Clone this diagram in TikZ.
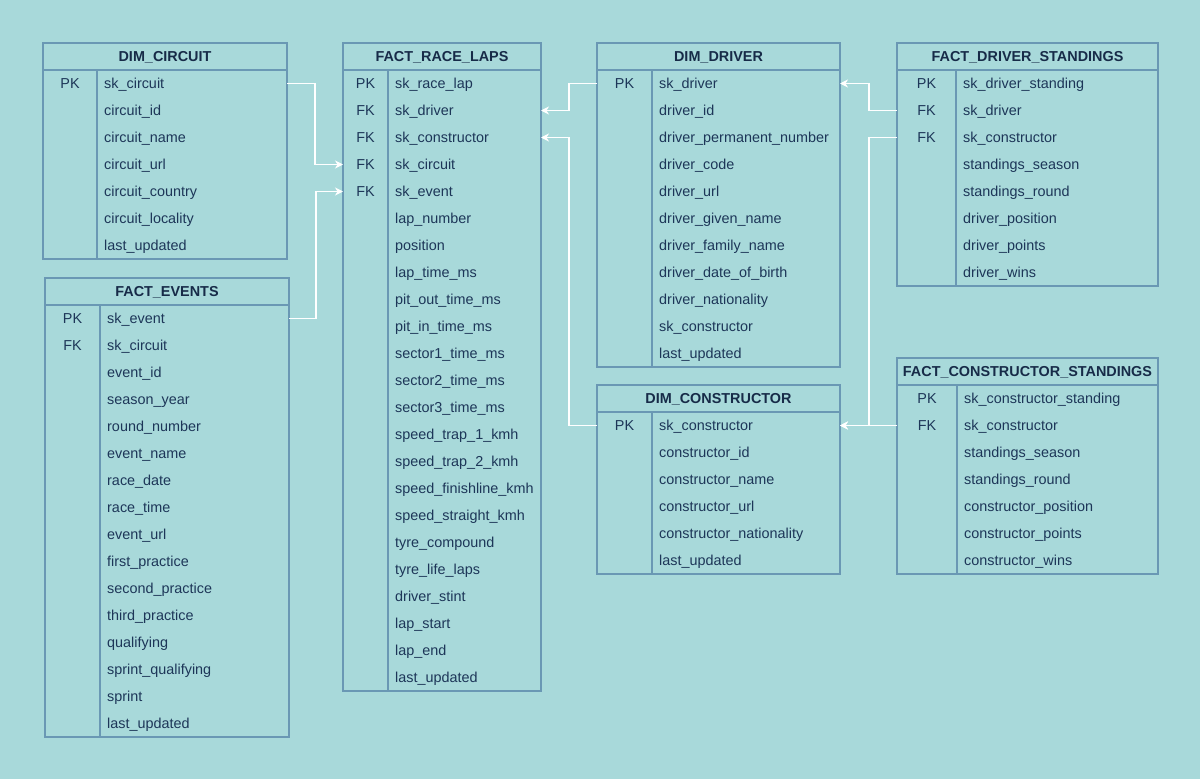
\documentclass[tikz,border=0pt]{standalone}
\usepackage{fontspec}
\setmainfont{Liberation Sans}
\usetikzlibrary{arrows.meta}
\definecolor{bgc}{HTML}{A8D9DA}
\definecolor{bdc}{HTML}{6A98B4}
\definecolor{txc}{HTML}{1D3658}
\definecolor{ttc}{HTML}{172B48}
\tikzset{
  tblbox/.style={draw=bdc, line width=1.2pt, inner sep=0pt, outer sep=0pt},
  hdrline/.style={draw=bdc, line width=2pt},
  keyline/.style={draw=bdc, line width=1.1pt},
  tbltitle/.style={font=\fontsize{14.4}{16}\selectfont\bfseries, text=ttc, inner sep=0pt, anchor=base},
  keytxt/.style={font=\fontsize{14.4}{16}\selectfont, text=txc, inner sep=0pt, anchor=base},
  fldtxt/.style={font=\fontsize{14.4}{16}\selectfont, text=txc, inner sep=0pt, anchor=base west},
  rowbox/.style={inner sep=0pt, outer sep=0pt, minimum height=27pt},
  link/.style={draw=white, line width=1.1pt, -{Stealth[length=8pt,width=8pt,inset=2.5pt]}},
}
% #1 name, #2 x, #3 y, #4 width, #5 key col width, #6 title, #7 rows, #8 list
\newcommand{\erTable}[8]{%
  \pgfmathsetmacro\tblh{27*(#7+1)}%
  \node[tblbox, minimum width=#4pt, minimum height=\tblh pt] (#1) at (#2+#4/2, #3+\tblh/2) {};
  \node[tbltitle] (#1-t) at (#2+#4/2, #3+18.5) {#6};
  \draw[hdrline] (#2, #3+27) -- (#2+#4, #3+27);
  \draw[keyline] (#2+#5, #3+27) -- (#2+#5, #3+\tblh);
  \foreach [count=\i] \k/\f in {#8} {
    \node[rowbox, minimum width=#4pt] (#1-r\i) at (#2+#4/2, #3+27*\i+13.5) {};
    \node[keytxt] (#1-k\i) at (#2+#5/2, #3+27*\i+18.5) {\k};
    \node[fldtxt] (#1-f\i) at (#2+#5+7, #3+27*\i+18.5) {\f};
  }
}
\begin{document}
\begin{tikzpicture}[x=1pt,y=-1pt]
\fill[bgc] (0,0) rectangle (1200,779);
\erTable{cir}{43}{43}{244}{54}{DIM\_CIRCUIT}{7}{PK/sk\_circuit,/circuit\_id,/circuit\_name,/circuit\_url,/circuit\_country,/circuit\_locality,/last\_updated}
\erTable{ev}{45}{278}{244}{55}{FACT\_EVENTS}{16}{PK/sk\_event,FK/sk\_circuit,/event\_id,/season\_year,/round\_number,/event\_name,/race\_date,/race\_time,/event\_url,/first\_practice,/second\_practice,/third\_practice,/qualifying,/sprint\_qualifying,/sprint,/last\_updated}
\erTable{rl}{343}{43}{198}{45}{FACT\_RACE\_LAPS}{23}{PK/sk\_race\_lap,FK/sk\_driver,FK/sk\_constructor,FK/sk\_circuit,FK/sk\_event,/lap\_number,/position,/lap\_time\_ms,/pit\_out\_time\_ms,/pit\_in\_time\_ms,/sector1\_time\_ms,/sector2\_time\_ms,/sector3\_time\_ms,/speed\_trap\_1\_kmh,/speed\_trap\_2\_kmh,/speed\_finishline\_kmh,/speed\_straight\_kmh,/tyre\_compound,/tyre\_life\_laps,/driver\_stint,/lap\_start,/lap\_end,/last\_updated}
\erTable{drv}{597}{43}{243}{55}{DIM\_DRIVER}{11}{PK/sk\_driver,/driver\_id,/driver\_permanent\_number,/driver\_code,/driver\_url,/driver\_given\_name,/driver\_family\_name,/driver\_date\_of\_birth,/driver\_nationality,/sk\_constructor,/last\_updated}
\erTable{con}{597}{385}{243}{55}{DIM\_CONSTRUCTOR}{6}{PK/sk\_constructor,/constructor\_id,/constructor\_name,/constructor\_url,/constructor\_nationality,/last\_updated}
\erTable{fds}{897}{43}{261}{59}{FACT\_DRIVER\_STANDINGS}{8}{PK/sk\_driver\_standing,FK/sk\_driver,FK/sk\_constructor,/standings\_season,/standings\_round,/driver\_position,/driver\_points,/driver\_wins}
\erTable{fcs}{897}{358}{261}{60}{FACT\_CONSTRUCTOR\_STANDINGS}{7}{PK/sk\_constructor\_standing,FK/sk\_constructor,/standings\_season,/standings\_round,/constructor\_position,/constructor\_points,/constructor\_wins}
% connectors
\draw[link] (cir-r1.east) -- ++(28,0) |- (rl-r4.west);
\draw[link] (ev-r1.east) -- ++(27,0) |- (rl-r5.west);
\draw[link] (drv-r1.west) -- ++(-28,0) |- (rl-r2.east);
\draw[link] (con-r1.west) -- ++(-28,0) |- (rl-r3.east);
\draw[link] (fds-r2.west) -- ++(-28,0) |- (drv-r1.east);
\draw[link] (fds-r3.west) -- ++(-28,0) |- (con-r1.east);
\draw[link] (fcs-r2.west) -- (con-r1.east);
\end{tikzpicture}
\end{document}
